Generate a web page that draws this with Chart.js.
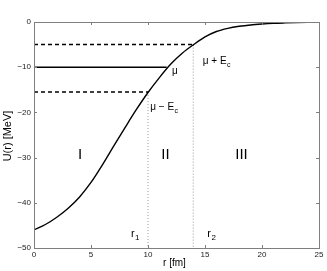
<!DOCTYPE html>
<html>
<head>
<meta charset="utf-8">
<script src="https://cdn.jsdelivr.net/npm/chart.js@4.4.0/dist/chart.umd.min.js"></script>
<style>
  html, body { margin: 0; padding: 0; background: #fff; }
  #wrap { width: 327px; height: 271px; }
</style>
</head>
<body>
<div id="wrap"><canvas id="potChart"></canvas></div>
<script>
// potential U(r)
const radius = [0, 1, 2, 3, 4, 5, 6, 7, 8, 9, 10, 11, 12, 13, 14, 15, 16, 17, 18, 19, 20, 21, 22, 23, 24, 25];
const potential = [-46.0, -44.8, -43.2, -41.2, -38.7, -35.5, -31.6, -27.4, -23.3, -19.3, -15.6, -12.3, -9.3, -6.9, -5.0, -3.3, -2.1, -1.4, -0.95, -0.65, -0.45, -0.3, -0.2, -0.12, -0.07, -0.04];

// energy levels: mu + Ec, mu, mu - Ec and where they meet the curve
const levelNames = ["mu+Ec", "mu", "mu-Ec"];
const levelValues = [-5, -10, -15.5];
const levelEnds = [13.97, 11.64, 10.0];

// turning points r1, r2
const turnR = [10.0, 13.97];
const turnU = [-15.5, -5];

const xTicks = [0, 5, 10, 15, 20, 25];
const yTicks = [0, -10, -20, -30, -40, -50];

const FONT = "'Liberation Sans', Arial, Helvetica, sans-serif";
const AXIS_GRAY = "#7f7f7f";

const datasets = [];
datasets.push({
  data: radius.map((r, i) => ({ x: r, y: potential[i] })),
  borderColor: "#000",
  borderWidth: 1.4,
  pointRadius: 0,
  showLine: true,
  cubicInterpolationMode: "monotone"
});
levelValues.forEach((v, i) => {
  datasets.push({
    data: [{ x: 0, y: v }, { x: levelEnds[i], y: v }],
    borderColor: "#000",
    borderWidth: 1.5,
    borderDash: levelNames[i] === "mu" ? [] : [4, 3],
    pointRadius: 0,
    showLine: true
  });
});
turnR.forEach((r, i) => {
  datasets.push({
    data: [{ x: r, y: turnU[i] }, { x: r, y: -50 }],
    borderColor: "#999",
    borderWidth: 1,
    borderDash: [1, 2],
    pointRadius: 0,
    showLine: true
  });
});

// box, inward ticks, tick labels and text labels (MATLAB style)
const decor = {
  id: "decor",
  afterDatasetsDraw(chart) {
    const { ctx, chartArea: a, scales } = chart;
    const X = v => scales.x.getPixelForValue(v);
    const Y = v => scales.y.getPixelForValue(v);
    ctx.save();
    ctx.strokeStyle = AXIS_GRAY;
    ctx.lineWidth = 1;
    ctx.strokeRect(Math.round(a.left) + 0.5, Math.round(a.top) + 0.5,
      Math.round(a.right - a.left), Math.round(a.bottom - a.top));
    ctx.beginPath();
    xTicks.forEach(t => {
      const px = Math.round(X(t)) + 0.5;
      ctx.moveTo(px, a.bottom); ctx.lineTo(px, a.bottom - 3);
      ctx.moveTo(px, a.top); ctx.lineTo(px, a.top + 3);
    });
    yTicks.forEach(t => {
      const py = Math.round(Y(t)) + 0.5;
      ctx.moveTo(a.left, py); ctx.lineTo(a.left + 3, py);
      ctx.moveTo(a.right, py); ctx.lineTo(a.right - 3, py);
    });
    ctx.stroke();

    // tick labels
    ctx.fillStyle = "#222";
    ctx.font = "8px " + FONT;
    ctx.textAlign = "right";
    ctx.textBaseline = "middle";
    yTicks.forEach(t => ctx.fillText(String(t).replace("-", "\u2212"), a.left - 3, Y(t)));
    ctx.textAlign = "center";
    ctx.textBaseline = "top";
    xTicks.forEach(t => ctx.fillText(String(t), X(t), a.bottom + 3));

    ctx.fillStyle = "#000";
    ctx.textBaseline = "alphabetic";
    const sub = (base, s, x, y, size) => {
      ctx.font = size + "px " + FONT;
      ctx.textAlign = "left";
      ctx.fillText(base, x, y);
      const w = ctx.measureText(base).width;
      ctx.font = Math.round(size * 0.7) + "px " + FONT;
      ctx.fillText(s, x + w + 0.5, y + 3);
    };
    sub("\u03bc + E", "c", X(14.8), Y(-9.3), 10);
    ctx.font = "10px " + FONT;
    ctx.fillText("\u03bc", X(12.1), Y(-11.5));
    sub("\u03bc \u2212 E", "c", X(10.2), Y(-19.4), 10);
    sub("r", "1", X(8.5), Y(-47.6), 11);
    sub("r", "2", X(15.2), Y(-47.6), 11);

    ctx.font = "15px " + FONT;
    ctx.textAlign = "center";
    ctx.fillText("I", X(4.04), Y(-30.3));
    ctx.fillText("II", X(11.53), Y(-30.3));
    ctx.fillText("III", X(18.2), Y(-30.3));

    ctx.font = "10px " + FONT;
    ctx.fillText("r [fm]", (a.left + a.right) / 2 - 2, 266);
    ctx.font = "11px " + FONT;
    ctx.translate(11, (a.top + a.bottom) / 2 + 1);
    ctx.rotate(-Math.PI / 2);
    ctx.fillText("U(r) [MeV]", 0, 0);
    ctx.restore();
  }
};

new Chart(document.getElementById("potChart"), {
  type: "scatter",
  data: { datasets: datasets },
  options: {
    responsive: true,
    maintainAspectRatio: false,
    animation: false,
    layout: { padding: { left: 0, top: 22, right: 8, bottom: 0 } },
    plugins: { legend: { display: false }, tooltip: { enabled: false } },
    scales: {
      x: {
        type: "linear",
        min: 0, max: 25,
        afterFit: s => { s.height = 23; },
        grid: { display: false },
        border: { display: false },
        ticks: { display: false }
      },
      y: {
        type: "linear",
        min: -50, max: 0,
        afterFit: s => { s.width = 34; },
        grid: { display: false },
        border: { display: false },
        ticks: { display: false }
      }
    }
  },
  plugins: [decor]
});
</script>
</body>
</html>
